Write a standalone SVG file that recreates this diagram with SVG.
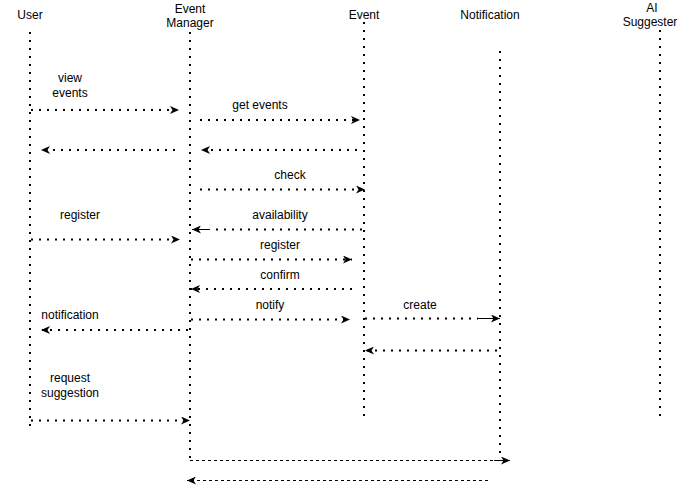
<svg xmlns="http://www.w3.org/2000/svg" width="680" height="489" viewBox="0 0 680 489">
<style>
text{font-family:"Liberation Sans",Arial,sans-serif;font-size:12px;fill:#000;text-anchor:middle}
.life{stroke:#000;stroke-width:2;stroke-dasharray:2 6;fill:none}
.msg{stroke:#000;stroke-width:2;stroke-dasharray:2 6;fill:none}
.dash{stroke:#000;stroke-width:1;stroke-dasharray:3 3;fill:none}
.solid{stroke:#000;stroke-width:1;fill:none}
</style>
<defs>
<marker id="ah" markerUnits="userSpaceOnUse" markerWidth="10" markerHeight="8" refX="9" refY="4" orient="auto">
<path d="M0,0 L9,4 L0,8 L2.5,4 Z" fill="#000"/>
</marker>
</defs>
<rect width="680" height="489" fill="#fff"/>
<g id="user">
<text x="30" y="19">User</text>
<line class="life" x1="30" y1="32" x2="30" y2="432"/>
</g>
<g id="event-manager">
<text x="190" y="12.5">Event</text>
<text x="190" y="27">Manager</text>
<line class="life" x1="190" y1="32" x2="190" y2="463"/>
</g>
<g id="event">
<text x="364" y="19">Event</text>
<line class="life" x1="364" y1="22" x2="364" y2="422"/>
</g>
<g id="notification">
<text x="490" y="19">Notification</text>
<line class="life" x1="500" y1="51" x2="500" y2="453"/>
</g>
<g id="ai-suggester">
<text x="652" y="11.5">AI</text>
<text x="650" y="26">Suggester</text>
<line class="life" x1="660" y1="30" x2="660" y2="422"/>
</g>
<g id="connectors">
<line class="msg" x1="31" y1="110" x2="179" y2="110" marker-end="url(#ah)"/>
<text x="70" y="81.5">view</text>
<text x="70" y="96.5">events</text>
<line class="msg" x1="200" y1="120" x2="360" y2="120" marker-end="url(#ah)"/>
<text x="260" y="108.5">get events</text>
<line class="msg" x1="357" y1="150" x2="201" y2="150" marker-end="url(#ah)"/>
<line class="msg" x1="175" y1="150" x2="41" y2="150" marker-end="url(#ah)"/>
<line class="msg" x1="200" y1="189.5" x2="365" y2="189.5" marker-end="url(#ah)"/>
<text x="290" y="179">check</text>
<line class="msg" x1="362" y1="229.5" x2="210" y2="229.5"/>
<line class="solid" x1="210" y1="229.5" x2="192" y2="229.5" marker-end="url(#ah)"/>
<text x="280" y="218.5">availability</text>
<line class="msg" x1="31" y1="239.5" x2="180" y2="239.5" marker-end="url(#ah)"/>
<text x="80" y="218.5">register</text>
<line class="msg" x1="191" y1="259.5" x2="352" y2="259.5" marker-end="url(#ah)"/>
<text x="280" y="248.5">register</text>
<line class="msg" x1="352" y1="289" x2="191" y2="289" marker-end="url(#ah)"/>
<text x="280" y="278.5">confirm</text>
<line class="msg" x1="191" y1="319.5" x2="350" y2="319.5" marker-end="url(#ah)"/>
<text x="270" y="308.5">notify</text>
<line class="msg" x1="188" y1="330" x2="41" y2="330" marker-end="url(#ah)"/>
<text x="70" y="318.5">notification</text>
<line class="msg" x1="365" y1="318.5" x2="478" y2="318.5"/>
<line class="solid" x1="478" y1="318.5" x2="500" y2="318.5" marker-end="url(#ah)"/>
<text x="420" y="308.5">create</text>
<line class="msg" x1="497" y1="350.5" x2="365" y2="350.5" marker-end="url(#ah)"/>
<line class="msg" x1="31" y1="420.5" x2="190" y2="420.5" marker-end="url(#ah)"/>
<text x="70" y="381.5">request</text>
<text x="70" y="396.5">suggestion</text>
<line class="dash" x1="190" y1="460.5" x2="494" y2="460.5"/>
<line class="solid" x1="494" y1="460.5" x2="510" y2="460.5" marker-end="url(#ah)"/>
<line class="dash" x1="488" y1="480.5" x2="187" y2="480.5" marker-end="url(#ah)"/>
</g>
</svg>
